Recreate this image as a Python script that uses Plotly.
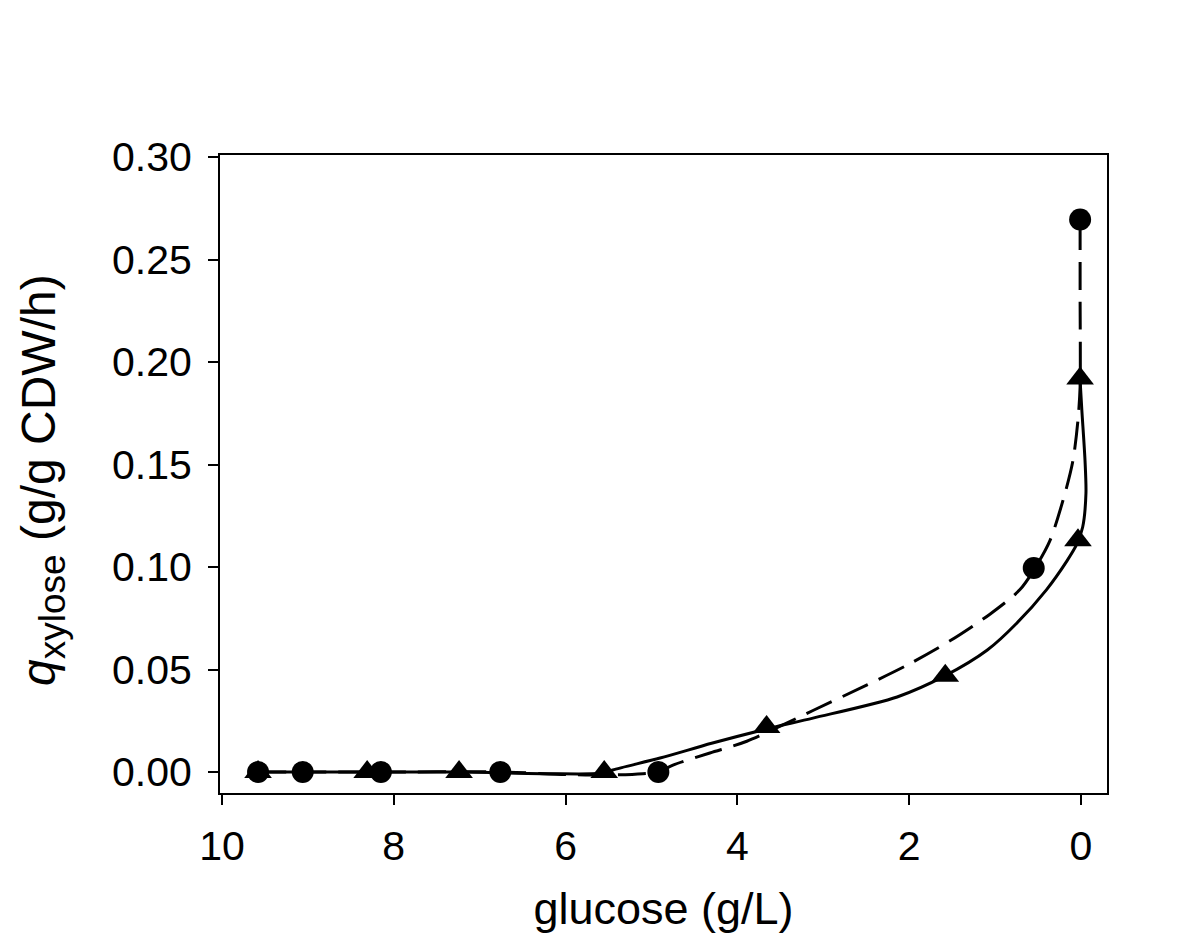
import plotly.graph_objects as go

# Measured data points
circ_x = [9.58, 9.06, 8.15, 6.76, 4.92, 0.55, 0.01]
circ_y = [0.0, 0.0, 0.0, 0.0, 0.0, 0.0995, 0.2695]
tri_x = [9.58, 8.31, 7.24, 5.55, 3.66, 1.58, 0.035, 0.01]
tri_y = [0.0, 0.0, 0.0, 0.0, 0.022, 0.047, 0.113, 0.192]

# Fitted curves
solid_x = [9.58, 8.3, 7.2, 6.2, 5.55, 5.45, 4.9, 4.3, 3.66, 3.12, 2.14, 1.58, 1.09, 0.745, 0.40, 0.163, 0.05, -0.02, -0.058, -0.047, -0.01, 0.01]
solid_y = [0.0, 0.0, 0.0, -0.0008, -0.0005, 0.001, 0.0068, 0.014, 0.021, 0.0263, 0.0366, 0.047, 0.0595, 0.0727, 0.089, 0.103, 0.111, 0.1195, 0.136, 0.152, 0.1766, 0.191]
dash_x = [9.58, 8.15, 6.76, 6.0, 5.5, 5.1, 4.92, 4.75, 4.32, 3.89, 3.12, 2.49, 2.03, 1.525, 1.06, 0.71, 0.535, 0.36, 0.186, 0.093, 0.035, 0.01, 0.01, 0.01]
dash_y = [0.0, 0.0, 0.0, -0.0012, -0.0015, -0.0008, 0.0, 0.0034, 0.0093, 0.015, 0.030, 0.0425, 0.052, 0.064, 0.077, 0.089, 0.0995, 0.113, 0.136, 0.152, 0.1717, 0.188, 0.23, 0.2695]

x_ticks = [10, 8, 6, 4, 2, 0]
y_ticks = [0.0, 0.05, 0.10, 0.15, 0.20, 0.25, 0.30]

FONT = "Liberation Sans, Arial, sans-serif"
Y_TITLE = "<i>q</i><sub><span style='font-size:37px'>xylose</span></sub> (g/g CDW/h)"

fig = go.Figure()
fig.add_trace(go.Scatter(x=solid_x, y=solid_y, mode="lines",
                         line=dict(color="black", width=3, shape="spline", smoothing=0.8),
                         hoverinfo="skip", showlegend=False))
fig.add_trace(go.Scatter(x=dash_x, y=dash_y, mode="lines",
                         line=dict(color="black", width=3, dash="28px,12px", shape="spline", smoothing=0.8),
                         hoverinfo="skip", showlegend=False))
fig.add_trace(go.Scatter(x=tri_x, y=tri_y, mode="markers",
                         marker=dict(symbol="triangle-up", size=24, color="black"),
                         showlegend=False))
fig.add_trace(go.Scatter(x=circ_x, y=circ_y, mode="markers",
                         marker=dict(symbol="circle", size=22, color="black"),
                         showlegend=False))

fig.update_layout(
    width=1188, height=941,
    margin=dict(l=212, r=89, t=147, b=156, autoexpand=False),
    paper_bgcolor="white", plot_bgcolor="white",
    font=dict(family=FONT, color="black"),
    showlegend=False,
    annotations=[dict(
        text=Y_TITLE, textangle=-90, showarrow=False,
        xref="paper", yref="paper", x=-0.2, y=0.49,
        xanchor="center", yanchor="middle",
        font=dict(size=48, family=FONT, color="black"),
    )],
)
fig.update_xaxes(
    range=[10.023, -0.303], tickvals=x_ticks, ticktext=[str(v) for v in x_ticks],
    showgrid=False, zeroline=False,
    showline=True, linecolor="black", linewidth=2, mirror=True,
    ticks="outside", ticklen=10, tickwidth=2, tickcolor="black",
    tickfont=dict(size=41, family=FONT), ticklabelstandoff=6,
    title=dict(text="glucose (g/L)", font=dict(size=45, family=FONT), standoff=24),
    automargin=False,
)
fig.update_yaxes(
    range=[-0.01024, 0.301], tickvals=y_ticks, tickformat=".2f",
    showgrid=False, zeroline=False,
    showline=True, linecolor="black", linewidth=2, mirror=True,
    ticks="outside", ticklen=10, tickwidth=2, tickcolor="black",
    tickfont=dict(size=41, family=FONT), ticklabelstandoff=8,
    automargin=False,
)

fig.write_html("out.html")
